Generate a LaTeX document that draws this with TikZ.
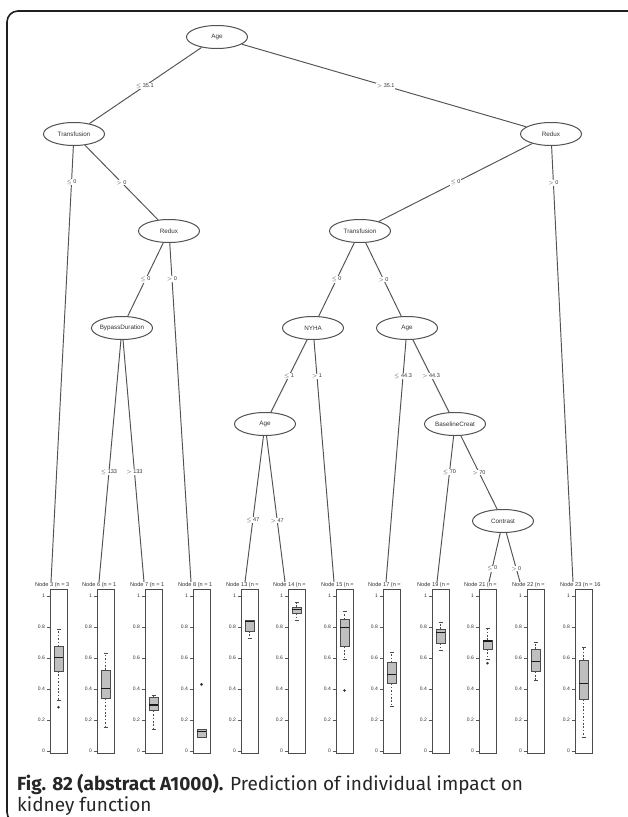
\documentclass[tikz,border=0pt]{standalone}
\usepackage{fontspec}
\setmainfont{Liberation Sans}
\newfontfamily\capfont{Fira Sans}
\usetikzlibrary{shapes.geometric}
\newcommand\bxpanel[8]{%
  % #1 left x, #2 header, #3 lo, #4 q1, #5 med, #6 q3, #7 hi, #8 name
  \begin{scope}[shift={(#1,0)}]
    \node[hdr, anchor=west] (#8) at (-15,585.5) {#2};
    \draw[panelbox] (0,589) rectangle (17,753);
    \foreach \v/\t in {0/0,0.2/0.2,0.4/0.4,0.6/0.6,0.8/0.8,1/1}{
      \draw[axisst] (-3.5,{751-155*\v}) -- (0,{751-155*\v});
      \node[ticklbl, anchor=east] at (-5,{751-155*\v}) {\t};
    }
    \draw[whisk] (8.5,{751-155*#6}) -- (8.5,{751-155*#7});
    \draw[whisk] (8.5,{751-155*#4}) -- (8.5,{751-155*#3});
    \draw[capst] (6.5,{751-155*#7}) -- (10.5,{751-155*#7});
    \draw[capst] (6.5,{751-155*#3}) -- (10.5,{751-155*#3});
    \draw[boxst] (4,{751-155*#4}) rectangle (13,{751-155*#6});
    \draw[medst] (4,{751-155*#5}) -- (13,{751-155*#5});
  \end{scope}}
\newcommand\outl[2]{\fill[black!80] ({#1+8.5},{751-155*#2}) circle (1.4);}
\begin{document}
\begin{tikzpicture}[x=1pt,y=-1pt,
  split/.style={draw=black!68, line width=1pt, ellipse, minimum width=61pt, minimum height=23pt, inner sep=0pt},
  splittxt/.style={font=\fontsize{6.3}{7}\selectfont, text=black!80, inner sep=0pt},
  edge/.style={draw=black!68, line width=0.95pt},
  elabel/.style={fill=white, inner sep=0.6pt, font=\fontsize{5.5}{6}\selectfont, text=black!80},
  hdr/.style={font=\fontsize{5.6}{6}\selectfont, text=black!80, inner sep=0pt},
  panelbox/.style={draw=black!70, line width=0.9pt},
  axisst/.style={draw=black!65, line width=0.6pt},
  ticklbl/.style={font=\fontsize{5}{6}\selectfont, text=black!80, inner sep=0pt},
  whisk/.style={draw=black!70, line width=0.6pt, dash pattern=on 1.6pt off 1.8pt},
  capst/.style={draw=black!70, line width=0.7pt},
  boxst/.style={draw=black!70, fill=black!25, line width=0.7pt},
  medst/.style={draw=black!90, line width=1.5pt},
]
\useasboundingbox (0,0) rectangle (627,817);
\fill[white] (0,0) rectangle (627,817);
\draw[line width=1.6pt, black!88, rounded corners=11pt] (7,11) rectangle (660,823);

% inner nodes
\node[split, label={[splittxt]center:Age}] (n1) at (217,37) {};
\node[split, label={[splittxt]center:Transfusion}] (n2) at (74,134) {};
\node[split, label={[splittxt]center:Redux}] (n9) at (551,134) {};
\node[split, label={[splittxt]center:Redux}] (n4) at (169,231) {};
\node[split, label={[splittxt]center:Transfusion}] (n10) at (360,231) {};
\node[split, label={[splittxt]center:BypassDuration}] (n5) at (122,328) {};
\node[split, label={[splittxt]center:NYHA}] (n11) at (313,328) {};
\node[split, label={[splittxt]center:Age}] (n16) at (407,328) {};
\node[split, label={[splittxt]center:Age}] (n12) at (265,424) {};
\node[split, label={[splittxt]center:BaselineCreat}] (n18) at (455,424) {};
\node[split, label={[splittxt]center:Contrast}] (n20) at (503,521) {};

% terminal ends
\coordinate (t3) at (51,582);
\coordinate (t6) at (99,582);
\coordinate (t7) at (144,582);
\coordinate (t8) at (191,582);
\coordinate (t13) at (245,582);
\coordinate (t14) at (285,582);
\coordinate (t15) at (334,582);
\coordinate (t17) at (386,582);
\coordinate (t19) at (437,582);
\coordinate (t21) at (489,582);
\coordinate (t22) at (520,582);
\coordinate (t23) at (573,582);

% edges
\draw[edge] (n1) -- (n2);
\draw[edge] (n1) -- (n9);
\draw[edge] (n2) -- (t3);
\draw[edge] (n2) -- (n4);
\draw[edge] (n9) -- (n10);
\draw[edge] (n9) -- (t23);
\draw[edge] (n4) -- (n5);
\draw[edge] (n4) -- (t8);
\draw[edge] (n10) -- (n11);
\draw[edge] (n10) -- (n16);
\draw[edge] (n5) -- (t6);
\draw[edge] (n5) -- (t7);
\draw[edge] (n11) -- (n12);
\draw[edge] (n11) -- (t15);
\draw[edge] (n16) -- (t17);
\draw[edge] (n16) -- (n18);
\draw[edge] (n12) -- (t13);
\draw[edge] (n12) -- (t14);
\draw[edge] (n18) -- (t19);
\draw[edge] (n18) -- (n20);
\draw[edge] (n20) -- (t21);
\draw[edge] (n20) -- (t22);

% edge labels
\path (n1.center) -- (n2.center) node[elabel, pos=0.505] (l1) {$\leq$ 35.1};
\path (n1.center) -- (n9.center) node[elabel, pos=0.505] (l2) {$>$ 35.1};
\path (n2.center) -- (t3) node[elabel, pos=0.107] (l3) {$\leq$ 0};
\path (n2.center) -- (n4.center) node[elabel, pos=0.5] (l4) {$>$ 0};
\path (n9.center) -- (n10.center) node[elabel, pos=0.5] (l5) {$\leq$ 0};
\path (n9.center) -- (t23) node[elabel, pos=0.109] (l6) {$>$ 0};
\path (n4.center) -- (n5.center) node[elabel, pos=0.5] (l7) {$\leq$ 0};
\path (n4.center) -- (t8) node[elabel, pos=0.136] (l8) {$>$ 0};
\path (n10.center) -- (n11.center) node[elabel, pos=0.5] (l9) {$\leq$ 0};
\path (n10.center) -- (n16.center) node[elabel, pos=0.5] (l10) {$>$ 0};
\path (n5.center) -- (t6) node[elabel, pos=0.566] (l11) {$\leq$ 133};
\path (n5.center) -- (t7) node[elabel, pos=0.566] (l12) {$>$ 133};
\path (n11.center) -- (n12.center) node[elabel, pos=0.5] (l13) {$\leq$ 1};
\path (n11.center) -- (t15) node[elabel, pos=0.19] (l14) {$>$ 1};
\path (n16.center) -- (t17) node[elabel, pos=0.19] (l15) {$\leq$ 44.3};
\path (n16.center) -- (n18.center) node[elabel, pos=0.5] (l16) {$>$ 44.3};
\path (n12.center) -- (t13) node[elabel, pos=0.61] (l17) {$\leq$ 47};
\path (n12.center) -- (t14) node[elabel, pos=0.61] (l18) {$>$ 47};
\path (n18.center) -- (t19) node[elabel, pos=0.306] (l19) {$\leq$ 70};
\path (n18.center) -- (n20.center) node[elabel, pos=0.5] (l20) {$>$ 70};
\path (n20.center) -- (t21) node[elabel, pos=0.78] (l21) {$\leq$ 0};
\path (n20.center) -- (t22) node[elabel, pos=0.78] (l22) {$>$ 0};

% terminal panels
\bxpanel{50}{Node 3 (n = 3}{0.325}{0.516}{0.602}{0.673}{0.785}{h3}
\outl{50}{0.282}
\bxpanel{97}{Node 6 (n = 1}{0.153}{0.34}{0.404}{0.522}{0.63}{h6}
\bxpanel{145}{Node 7 (n = 1}{0.14}{0.26}{0.297}{0.346}{0.36}{h7}
\bxpanel{193}{Node 8 (n = 1}{0.085}{0.088}{0.125}{0.14}{0.14}{h8}
\outl{193}{0.43}
\bxpanel{241}{Node 13 (n =}{0.73}{0.774}{0.834}{0.84}{0.84}{h13}
\bxpanel{288}{Node 14 (n =}{0.84}{0.888}{0.914}{0.93}{0.957}{h14}
\bxpanel{336}{Node 15 (n =}{0.59}{0.673}{0.798}{0.85}{0.903}{h15}
\outl{336}{0.39}
\bxpanel{383}{Node 17 (n =}{0.29}{0.436}{0.495}{0.57}{0.639}{h17}
\bxpanel{432}{Node 19 (n =}{0.652}{0.695}{0.763}{0.787}{0.83}{h19}
\bxpanel{479}{Node 21 (n =}{0.59}{0.658}{0.71}{0.716}{0.79}{h21}
\outl{479}{0.566}
\bxpanel{527}{Node 22 (n =}{0.458}{0.512}{0.576}{0.658}{0.703}{h22}
\bxpanel{575}{Node 23 (n = 16}{0.088}{0.334}{0.437}{0.587}{0.666}{h23}

% caption
\node[anchor=base west, inner sep=0pt, font=\capfont\fontsize{19}{22}\selectfont, text=black!85] (cap1) at (17,790) {\textbf{Fig. 82 (abstract A1000).} Prediction of individual impact on};
\node[anchor=base west, inner sep=0pt, font=\capfont\fontsize{19}{22}\selectfont, text=black!85] (cap2) at (17,811) {kidney function};
\end{tikzpicture}
\end{document}
